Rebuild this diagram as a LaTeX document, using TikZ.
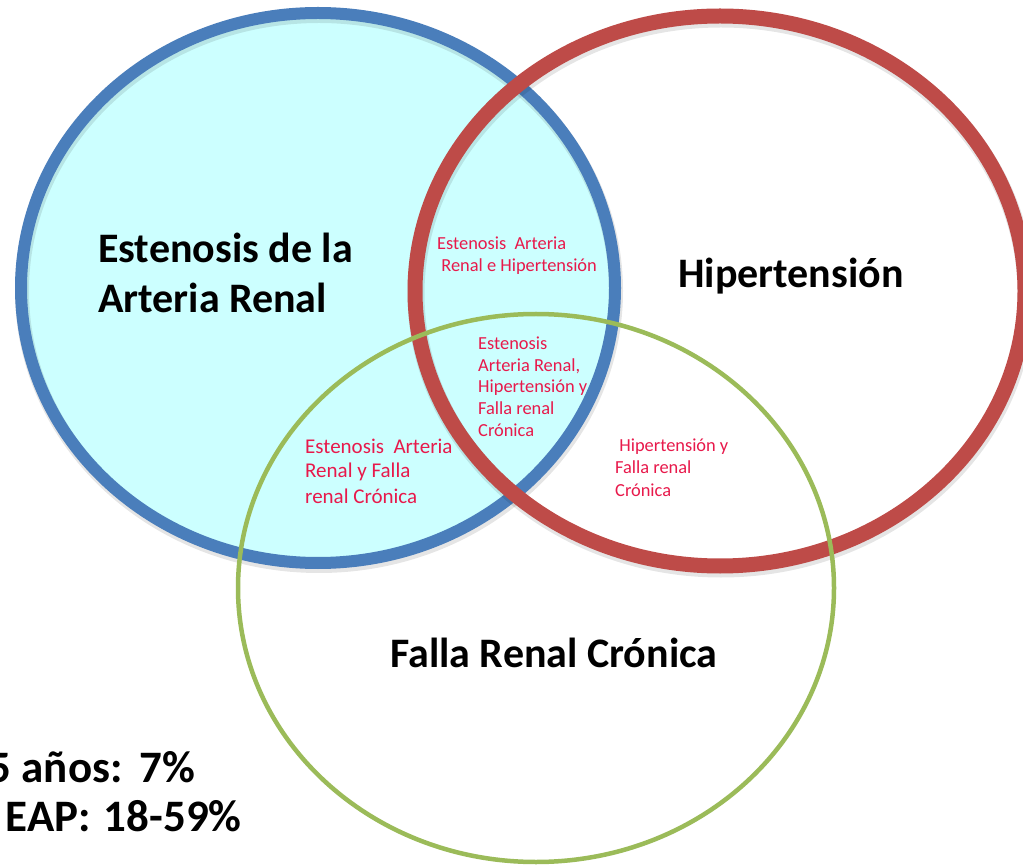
\documentclass[tikz,border=0pt]{standalone}
\usepackage{fontspec}
\setmainfont{Carlito}
\definecolor{ringblue}{RGB}{74,126,187}
\definecolor{ringred}{RGB}{190,75,72}
\definecolor{ringgreen}{RGB}{155,187,89}
\definecolor{lightcyan}{RGB}{204,255,255}
\definecolor{labelpink}{RGB}{232,25,75}
\begin{document}
\begin{tikzpicture}[x=1pt,y=-1pt,
  biglabel/.style={font=\fontsize{42}{50}\selectfont\bfseries, inner sep=0pt, anchor=base west},
  statlabel/.style={font=\fontsize{45}{50}\selectfont\bfseries, inner sep=0pt, anchor=base east},
  smalllabel/.style={font=\fontsize{18.4}{22}\selectfont, text=labelpink, inner sep=0pt, anchor=base west, align=left},
  ringshadow/.style={draw=black, opacity=0.10, line width=#1}]
\useasboundingbox (0,0) rectangle (1023,866);
\fill[white] (0,0) rectangle (1023,866);

% blue set
\fill[lightcyan] (318,288) ellipse [x radius=297pt, y radius=275pt];
\draw[ringshadow=14pt] (319,291) ellipse [x radius=297pt, y radius=275pt];
\draw[ringblue, line width=12pt] (318,288) ellipse [x radius=297pt, y radius=275pt];
% red set
\draw[ringshadow=17pt] (721,294) ellipse [x radius=305pt, y radius=275pt];
\draw[ringred, line width=15pt] (720,291) ellipse [x radius=305pt, y radius=275pt];
% green set
\draw[ringgreen, line width=4.5pt] (536,588) ellipse [x radius=298pt, y radius=274pt];

% main labels
\node[biglabel] (ear1) at (98,263) {Estenosis de la};
\node[biglabel] (ear2) at (98,313) {Arteria Renal};
\node[biglabel] (hta) at (678,288) {Hipertensión};
\node[biglabel] (frc) at (390,667) {Falla Renal Crónica};
\node[statlabel] (stat1) at (195,782) {5 años:\hspace{3pt} 7\%};
\node[statlabel] (stat2) at (242,831) {EAP:\hspace{3pt} 18-59\%};

% intersection labels (anchored at the baseline of their last line)
\node[smalllabel] (earhta) at (437,272) {Estenosis~ Arteria\\\ Renal e Hipertensión};
\node[smalllabel] (all) at (478,437) {Estenosis\\Arteria Renal,\\Hipertensión y\\Falla renal\\Crónica};
\node[smalllabel, font=\fontsize{21}{25}\selectfont] (earfrc) at (305,503) {Estenosis~ Arteria\\Renal y Falla\\renal Crónica};
\node[smalllabel] (htafrc) at (615,496) {\ Hipertensión y\\Falla renal\\Crónica};
\end{tikzpicture}
\end{document}
